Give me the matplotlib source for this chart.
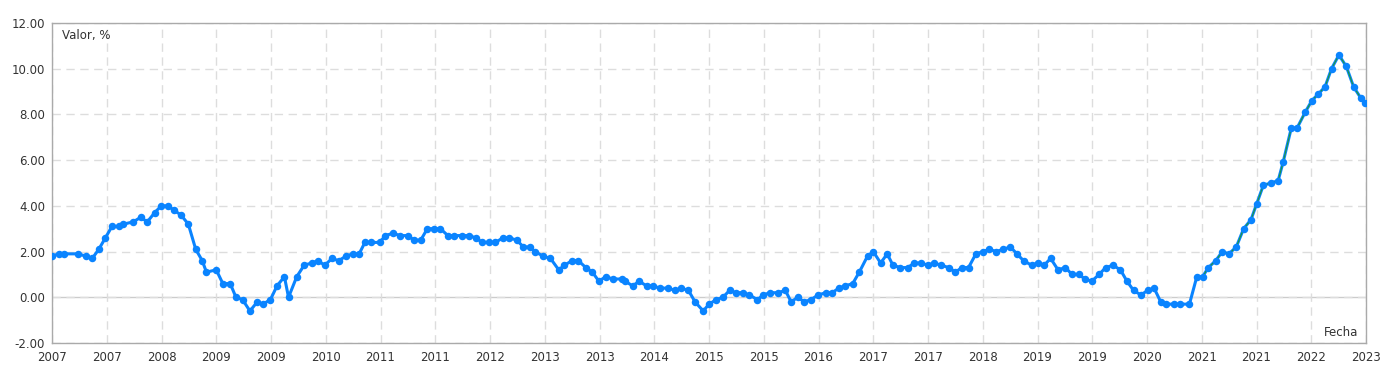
import numpy as np
import matplotlib
matplotlib.use('Agg')
import matplotlib.pyplot as plt

# fecha en años decimales, valor en %
fecha = [
    2007.00, 2007.08, 2007.15, 2007.32, 2007.41, 2007.49, 2007.57, 2007.65, 2007.73, 2007.82, 2007.87, 2007.99,
    2008.08, 2008.16, 2008.25, 2008.33, 2008.41, 2008.49, 2008.57, 2008.66, 2008.75, 2008.83, 2008.88,
    2009.00, 2009.08, 2009.17, 2009.24, 2009.32, 2009.41, 2009.50, 2009.57, 2009.66, 2009.74, 2009.83, 2009.88, 2009.98,
    2010.07, 2010.16, 2010.24, 2010.32, 2010.41, 2010.49, 2010.58, 2010.66, 2010.74, 2010.81, 2010.88, 2010.99,
    2011.06, 2011.15, 2011.24, 2011.33, 2011.41, 2011.49, 2011.57, 2011.65, 2011.73, 2011.82, 2011.89, 2011.99,
    2012.08, 2012.16, 2012.24, 2012.32, 2012.40, 2012.49, 2012.57, 2012.66, 2012.74, 2012.82, 2012.88, 2012.98,
    2013.07, 2013.17, 2013.24, 2013.33, 2013.41, 2013.50, 2013.58, 2013.66, 2013.74, 2013.83, 2013.94, 2013.98,
    2014.07, 2014.15, 2014.24, 2014.32, 2014.40, 2014.50, 2014.59, 2014.66, 2014.75, 2014.83, 2014.93,
    2015.00, 2015.09, 2015.17, 2015.25, 2015.33, 2015.41, 2015.49, 2015.59, 2015.66, 2015.74, 2015.84, 2015.93,
    2016.00, 2016.08, 2016.16, 2016.24, 2016.33, 2016.42, 2016.50, 2016.58, 2016.66, 2016.75, 2016.83, 2016.93,
    2017.00, 2017.09, 2017.17, 2017.24, 2017.33, 2017.42, 2017.50, 2017.58, 2017.67, 2017.74, 2017.83, 2017.92,
    2018.00, 2018.08, 2018.16, 2018.25, 2018.34, 2018.41, 2018.50, 2018.58, 2018.67, 2018.75, 2018.83, 2018.93,
    2019.00, 2019.08, 2019.16, 2019.25, 2019.34, 2019.42, 2019.50, 2019.58, 2019.66, 2019.75, 2019.83, 2019.92,
    2020.01, 2020.09, 2020.17, 2020.26, 2020.34, 2020.42, 2020.50, 2020.57, 2020.66, 2020.74, 2020.85, 2020.94,
    2021.01, 2021.08, 2021.17, 2021.25, 2021.33, 2021.42, 2021.51, 2021.60, 2021.67, 2021.75, 2021.84, 2021.93, 2021.99,
    2022.09, 2022.16, 2022.26, 2022.34, 2022.42, 2022.50, 2022.58, 2022.67, 2022.76, 2022.85, 2022.94, 2022.99,
]
valor = [
    1.8, 1.9, 1.9, 1.9, 1.8, 1.7, 2.1, 2.6, 3.1, 3.1, 3.2, 3.3,
    3.5, 3.3, 3.7, 4.0, 4.0, 3.8, 3.6, 3.2, 2.1, 1.6, 1.1,
    1.2, 0.6, 0.6, 0.0, -0.1, -0.6, -0.2, -0.3, -0.1, 0.5, 0.9, 0.0, 0.9,
    1.4, 1.5, 1.6, 1.4, 1.7, 1.6, 1.8, 1.9, 1.9, 2.4, 2.4, 2.4,
    2.7, 2.8, 2.7, 2.7, 2.5, 2.5, 3.0, 3.0, 3.0, 2.7, 2.7, 2.7,
    2.7, 2.6, 2.4, 2.4, 2.4, 2.6, 2.6, 2.5, 2.2, 2.2, 2.0, 1.8,
    1.7, 1.2, 1.4, 1.6, 1.6, 1.3, 1.1, 0.7, 0.9, 0.8, 0.8, 0.7,
    0.5, 0.7, 0.5, 0.5, 0.4, 0.4, 0.3, 0.4, 0.3, -0.2, -0.6,
    -0.3, -0.1, 0.0, 0.3, 0.2, 0.2, 0.1, -0.1, 0.1, 0.2, 0.2, 0.3,
    -0.2, 0.0, -0.2, -0.1, 0.1, 0.2, 0.2, 0.4, 0.5, 0.6, 1.1, 1.8,
    2.0, 1.5, 1.9, 1.4, 1.3, 1.3, 1.5, 1.5, 1.4, 1.5, 1.4, 1.3,
    1.1, 1.3, 1.3, 1.9, 2.0, 2.1, 2.0, 2.1, 2.2, 1.9, 1.6, 1.4,
    1.5, 1.4, 1.7, 1.2, 1.3, 1.0, 1.0, 0.8, 0.7, 1.0, 1.3, 1.4,
    1.2, 0.7, 0.3, 0.1, 0.3, 0.4, -0.2, -0.3, -0.3, -0.3, -0.3, 0.9,
    0.9, 1.3, 1.6, 2.0, 1.9, 2.2, 3.0, 3.4, 4.1, 4.9, 5.0, 5.1, 5.9,
    7.4, 7.4, 8.1, 8.6, 8.9, 9.2, 10.0, 10.6, 10.1, 9.2, 8.7, 8.5,
]

inicio, fin = 2007.0, 2023.0
ticks_x = [inicio + k * 8 / 12 for k in range(25)]
etiquetas_x = [str(int(np.floor(t + 1e-6))) for t in ticks_x]
ticks_y = [-2, 0, 2, 4, 6, 8, 10, 12]

fecha = np.array(fecha)
valor = np.array(valor)

fig = plt.figure(figsize=(13.91, 3.80), dpi=100)
ax = fig.add_axes([52 / 1391, 37 / 380, 1314 / 1391, 320 / 380])

gris = '#333333'
ax.grid(True, color='#dddddd', linestyle=(0, (6, 4)), linewidth=1.0)
ax.axhline(0, color='#cccccc', linewidth=1.0, zorder=1)

azul = '#0a84ff'
ax.plot(fecha, valor, color=azul, linewidth=2.2, zorder=2)
# tramo final con la línea verde encima de la azul
tramo = fecha >= 2020.98
ax.plot(fecha[tramo], valor[tramo], color='#1f9a3a', linewidth=0.8, zorder=3)
ax.plot(fecha, valor, linestyle='none', marker='o', markersize=5.4,
        color=azul, markeredgewidth=0, zorder=4)

ax.set_xlim(inicio, fin)
ax.set_ylim(-2, 12)
ax.set_xticks(ticks_x)
ax.set_xticklabels(etiquetas_x)
ax.set_yticks(ticks_y)
ax.set_yticklabels(['%.2f' % v for v in ticks_y])
ax.tick_params(length=0, labelsize=8.5, colors=gris, pad=5)
ax.tick_params(axis='x', pad=6)
for s in ax.spines.values():
    s.set_color('#aaaaaa')
    s.set_linewidth(1.0)

ax.text(0.0076, 0.96, 'Valor, %', transform=ax.transAxes, fontsize=8.5,
        color=gris, va='center', ha='left')
ax.text(0.994, 0.034, 'Fecha', transform=ax.transAxes, fontsize=8.5,
        color=gris, va='center', ha='right')

plt.savefig('out.png', dpi=100)
